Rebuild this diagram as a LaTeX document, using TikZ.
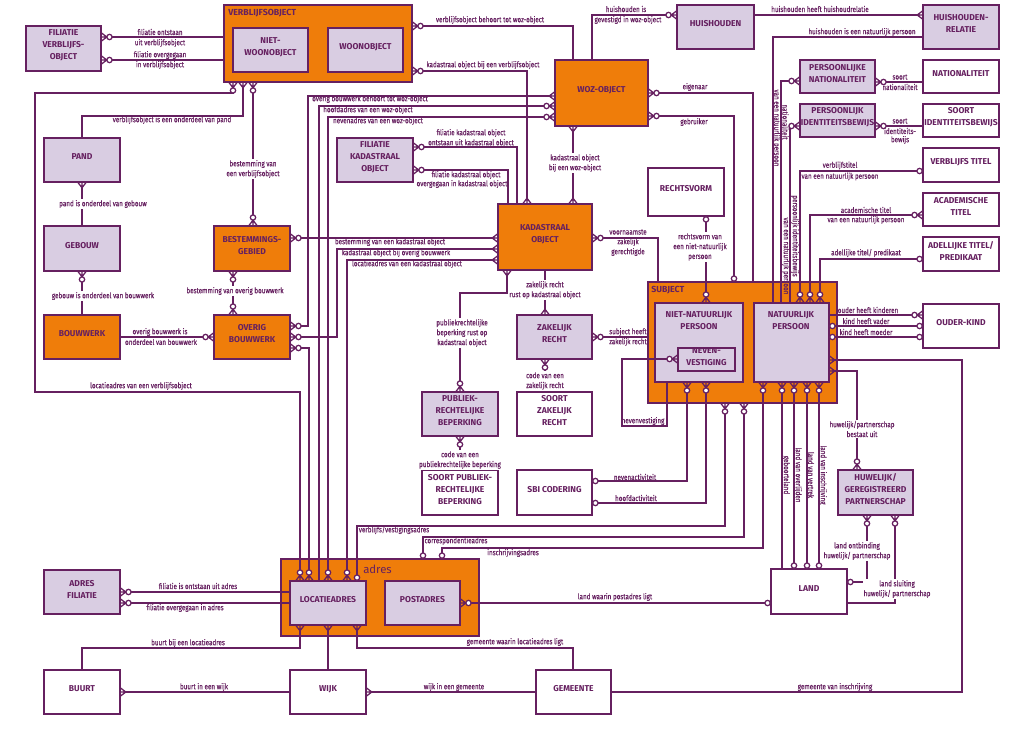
\documentclass[tikz,border=0pt]{standalone}
\usepackage{fontspec}
\setmainfont{Fira Sans}
\newfontfamily\lblfam[FakeStretch=0.8,FakeBold=0.3]{Fira Sans}
\usetikzlibrary{arrows.meta,fit}
\definecolor{pur}{RGB}{102,32,96}
\definecolor{org}{RGB}{239,125,10}
\definecolor{lav}{RGB}{217,205,226}
\pgfdeclarearrow{
  name = Crow,
  parameters = {\the\pgfarrowlength,\the\pgfarrowwidth},
  setup code = {
    \pgfarrowssettipend{0pt}
    \pgfarrowssetlineend{-\pgfarrowlength}
    \pgfarrowssetbackend{-\pgfarrowlength}
    \pgfarrowsupperhullpoint{0pt}{.5\pgfarrowwidth}
    \pgfarrowsupperhullpoint{-\pgfarrowlength}{0pt}
    \pgfarrowssavethe\pgfarrowlength
    \pgfarrowssavethe\pgfarrowwidth
  },
  drawing code = {
    \pgfpathmoveto{\pgfqpoint{0pt}{.5\pgfarrowwidth}}
    \pgfpathlineto{\pgfqpoint{-\pgfarrowlength}{0pt}}
    \pgfpathlineto{\pgfqpoint{0pt}{-.5\pgfarrowwidth}}
    \pgfpathmoveto{\pgfqpoint{-\pgfarrowlength}{0pt}}
    \pgfpathlineto{\pgfqpoint{0pt}{0pt}}
    \pgfusepathqstroke
  },
  defaults = {length = 3.8pt, width = 5.8pt}
}
\pgfdeclarearrow{
  name = Oc,
  parameters = {\the\pgfarrowlength},
  setup code = {
    \pgfarrowssettipend{0pt}
    \pgfarrowssetlineend{-\pgfarrowlength}
    \pgfarrowssetbackend{-\pgfarrowlength}
    \pgfarrowsupperhullpoint{0pt}{.5\pgfarrowlength}
    \pgfarrowsupperhullpoint{-\pgfarrowlength}{.5\pgfarrowlength}
    \pgfarrowssavethe\pgfarrowlength
  },
  drawing code = {
    \pgfpathcircle{\pgfqpoint{-.5\pgfarrowlength}{0pt}}{.5\pgfarrowlength}
    \pgfsetfillcolor{white}
    \pgfusepathqfillstroke
  },
  defaults = {length = 4pt}
}
\newcommand{\ttlf}{\fontsize{6.4}{9}\selectfont\bfseries}
\newcommand{\lblf}{\lblfam\fontsize{5.9}{7.4}\selectfont}
\newcommand{\bx}[7]{\node[#6, fit={(#2,#3) (#4,#5)}] (#1) {#7};}
\tikzset{
  conn/.style={draw=pur, line width=0.95pt},
  ebox/.style={draw=pur, line width=1.1pt, inner sep=0pt, align=center, text=pur, font=\ttlf},
  lavb/.style={ebox, fill=lav},
  orgb/.style={ebox, fill=org},
  whb/.style={ebox, fill=white},
  ttl/.style={text=pur, font=\ttlf, align=center, inner sep=0pt},
  ctl/.style={text=pur, font=\fontsize{6.6}{7}\selectfont\bfseries, inner sep=0pt, anchor=west},
  lb/.style={text=pur, font=\lblf, inner sep=0.3pt, align=center},
  lbw/.style={lb, fill=white, inner sep=0.8pt},
  vl/.style={lb, rotate=-90},
}
\begin{document}
\begin{tikzpicture}[x=0.75pt,y=-0.75pt]
\useasboundingbox (0,0) rectangle (1024,731);
% containers
\bx{vbo}{224}{5}{412}{82}{orgb}{}
\node[ctl] (vbot) at (228,13) {VERBLIJFSOBJECT};
\bx{subj}{648}{282}{837}{403}{orgb}{}
\node[ctl] (subjt) at (651,290) {SUBJECT};
\bx{adres}{281}{559}{479}{636}{orgb}{}
\node[text=pur, font=\fontsize{8.5}{9}\selectfont, inner sep=0pt, anchor=west] (adrest) at (363,569) {adres};
% boxes
\bx{fvb}{26}{26}{101}{71}{lavb}{FILIATIE\\VERBLIJFS-\\OBJECT}
\bx{nwo}{233}{28}{308}{72}{lavb}{NIET-\\WOONOBJECT}
\bx{wo}{328}{28}{403}{72}{lavb}{WOONOBJECT}
\bx{woz}{555}{60}{648}{126}{orgb}{WOZ-OBJECT}
\bx{hh}{677}{5}{754}{49}{lavb}{HUISHOUDEN}
\bx{hhr}{923}{5}{999}{49}{lavb}{HUISHOUDEN-\\RELATIE}
\bx{pnat}{800}{60}{875}{93}{lavb}{PERSOONLIJKE\\NATIONALITEIT}
\bx{nat}{923}{60}{999}{93}{whb}{NATIONALITEIT}
\bx{pid}{800}{104}{875}{137}{lavb}{PERSOONLIJK\\IDENTITEITSBEWIJS}
\bx{sid}{923}{104}{999}{137}{whb}{SOORT\\IDENTITEITSBEWIJS}
\bx{vt}{923}{148}{999}{182}{whb}{VERBLIJFS TITEL}
\bx{acad}{923}{193}{999}{226}{whb}{ACADEMISCHE\\TITEL}
\bx{adt}{923}{237}{999}{271}{whb}{ADELLIJKE TITEL/\\PREDIKAAT}
\bx{ok}{923}{304}{999}{348}{whb}{OUDER-KIND}
\bx{rv}{648}{168}{724}{216}{whb}{RECHTSVORM}
\bx{pand}{44}{138}{120}{182}{lavb}{PAND}
\bx{geb}{44}{226}{120}{271}{lavb}{GEBOUW}
\bx{bw}{44}{315}{120}{359}{orgb}{BOUWWERK}
\bx{bg}{214}{226}{290}{271}{orgb}{BESTEMMINGS-\\GEBIED}
\bx{ob}{214}{315}{290}{359}{orgb}{OVERIG\\BOUWWERK}
\bx{fko}{337}{138}{413}{182}{lavb}{FILIATIE\\KADASTRAAL\\OBJECT}
\bx{ko}{498}{204}{592}{270}{orgb}{KADASTRAAL\\OBJECT}
\bx{zr}{517}{315}{592}{359}{lavb}{ZAKELIJK\\RECHT}
\bx{szr}{517}{392}{592}{436}{whb}{SOORT\\ZAKELIJK\\RECHT}
\bx{prb}{422}{392}{498}{436}{lavb}{PUBLIEK-\\RECHTELIJKE\\BEPERKING}
\bx{sprb}{422}{470}{498}{515}{whb}{SOORT PUBLIEK-\\RECHTELIJKE\\BEPERKING}
\bx{sbi}{517}{470}{592}{515}{whb}{SBI CODERING}
\bx{nnp}{655}{303}{743}{382}{lavb}{}
\node[ttl] (nnpt) at (699,321) {NIET-NATUURLIJK\\PERSOON};
\bx{nv}{678}{348}{735}{371}{lavb}{NEVEN-\\VESTIGING}
\bx{np}{754}{303}{829}{382}{lavb}{}
\node[ttl] (npt) at (791,321) {NATUURLIJK\\PERSOON};
\bx{huw}{838}{470}{913}{515}{lavb}{HUWELIJK/\\GEREGISTREERD\\PARTNERSCHAP}
\bx{land}{771}{569}{847}{614}{whb}{LAND}
\bx{la}{290}{581}{366}{625}{lavb}{LOCATIEADRES}
\bx{pa}{385}{581}{460}{625}{lavb}{POSTADRES}
\bx{af}{44}{570}{120}{614}{lavb}{ADRES\\FILIATIE}
\bx{buurt}{44}{670}{120}{714}{whb}{BUURT}
\bx{wijk}{290}{670}{366}{714}{whb}{WIJK}
\bx{gem}{536}{670}{611}{714}{whb}{GEMEENTE}
% connectors
\draw[conn,{Crow[] Oc[]}-] (fvb.east |- 0,37) -- (vbo.west |- 0,37);
\draw[conn,{Crow[] Oc[]}-] (fvb.east |- 0,60) -- (vbo.west |- 0,60);
\draw[conn,{Crow[] Oc[]}-] (vbo.east |- 0,26) -| (woz.north -| 573,0);
\draw[conn,{Crow[] Oc[]}-{Crow[]}] (vbo.east |- 0,71) -| (ko.north -| 527,0);
\draw[conn,{Crow[]}-{Crow[]}] (woz.south -| 573,0) -- (ko.north -| 573,0);
\draw[conn,-{Oc[] Crow[]}] (woz.north -| 592,0) |- (hh.west |- 0,15);
\draw[conn,-{Crow[]}] (hh.east |- 0,15) -- (hhr.west |- 0,15);
\draw[conn] (hhr.west |- 0,37) -| (np.north -| 773,0);
\draw[conn,-{Oc[] Crow[]}] (np.north -| 781,0) |- (pnat.west |- 0,81);
\draw[conn,-{Oc[] Crow[]}] (np.north -| 790,0) |- (pid.west |- 0,126);
\draw[conn,{Crow[] Oc[]}-{Oc[]}] (np.north -| 800,0) |- (vt.west |- 0,171);
\draw[conn,{Crow[] Oc[]}-{Oc[] Crow[]}] (np.north -| 810,0) |- (acad.west |- 0,215);
\draw[conn,{Crow[] Oc[]}-{Oc[]}] (np.north -| 820,0) |- (adt.west |- 0,259);
\draw[conn,{Crow[] Oc[]}-] (pnat.east |- 0,82) -- (nat.west |- 0,82);
\draw[conn,{Crow[] Oc[]}-] (pid.east |- 0,126) -- (sid.west |- 0,126);
\draw[conn,-{Oc[] Crow[]}] (np.east |- 0,315) -- (ok.west |- 0,315);
\draw[conn,{Oc[]}-{Oc[]}] (np.east |- 0,326) -- (ok.west |- 0,326);
\draw[conn,{Oc[]}-{Oc[]}] (np.east |- 0,337) -- (ok.west |- 0,337);
\draw[conn,{Crow[]}-] (np.east |- 0,360) -| (962,692) -- (gem.east |- 0,692);
\draw[conn,{Crow[]}-{Oc[] Crow[]}] (np.east |- 0,371) -| (huw.north -| 857,0);
\draw[conn,{Crow[] Oc[]}-{Oc[]}] (huw.south -| 867,0) |- (land.east |- 0,582);
\draw[conn,{Crow[] Oc[]}-] (huw.south -| 895,0) |- (land.east |- 0,603);
\draw[conn,{Crow[] Oc[]}-{Oc[]}] (pa.east |- 0,603) -- (land.west |- 0,603);
\draw[conn,{Crow[] Oc[]}-] (af.east |- 0,592) -- (la.west |- 0,592);
\draw[conn,{Crow[] Oc[]}-] (af.east |- 0,603) -- (la.west |- 0,603);
\draw[conn,{Crow[]}-] (la.south -| 300,0) |- (82,648) -- (buurt.north -| 82,0);
\draw[conn,{Crow[]}-] (la.south -| 328,0) -- (wijk.north -| 328,0);
\draw[conn,{Crow[]}-] (la.south -| 357,0) |- (573,648) -- (gem.north -| 573,0);
\draw[conn,{Crow[]}-] (buurt.east |- 0,692) -- (wijk.west |- 0,692);
\draw[conn,{Crow[]}-] (wijk.east |- 0,692) -- (gem.west |- 0,692);
\draw[conn,{Crow[] Oc[]}-{Oc[] Crow[]}] (vbo.south -| 233,0) |- (35,93) |- (300,392) -- (la.north -| 300,0);
\draw[conn,{Crow[]}-] (vbo.south -| 243,0) |- (82,116) -- (pand.north -| 82,0);
\draw[conn,{Crow[] Oc[]}-{Oc[] Crow[]}] (vbo.south -| 253,0) -- (bg.north -| 253,0);
\draw[conn,{Crow[]}-] (pand.south -| 82,0) -- (geb.north -| 82,0);
\draw[conn,{Crow[] Oc[]}-] (geb.south -| 82,0) -- (bw.north -| 82,0);
\draw[conn,-{Oc[] Crow[]}] (bw.east |- 0,337) -- (ob.west |- 0,337);
\draw[conn,{Crow[] Oc[]}-{Oc[] Crow[]}] (bg.south -| 233,0) -- (ob.north -| 233,0);
\draw[conn,{Crow[] Oc[]}-{Crow[]}] (bg.east |- 0,238) -- (ko.west |- 0,238);
\draw[conn,{Crow[] Oc[]}-{Crow[]}] (ob.east |- 0,337) -| (337,249) -- (ko.west |- 0,249);
\draw[conn,{Crow[] Oc[]}-{Crow[]}] (la.north -| 347,0) |- (ko.west |- 0,260);
\draw[conn,{Crow[] Oc[]}-{Crow[]}] (ob.east |- 0,326) -| (308,96) -- (woz.west |- 0,96);
\draw[conn,-{Oc[] Crow[]}] (la.north -| 319,0) |- (woz.west |- 0,106);
\draw[conn,{Crow[] Oc[]}-{Oc[] Crow[]}] (la.north -| 328,0) |- (woz.west |- 0,117);
\draw[conn,{Crow[] Oc[]}-{Oc[] Crow[]}] (ob.east |- 0,348) -| (la.north -| 309,0);
\draw[conn,{Crow[] Oc[]}-] (fko.east |- 0,147) -| (ko.north -| 517,0);
\draw[conn,{Crow[] Oc[]}-] (fko.east |- 0,170) -| (ko.north -| 508,0);
\draw[conn,{Crow[] Oc[]}-] (ko.east |- 0,238) -| (subj.north -| 658,0);
\draw[conn,{Crow[]}-{Oc[] Crow[]}] (ko.south -| 507,0) |- (460,293) -- (prb.north -| 460,0);
\draw[conn,-{Crow[]}] (ko.south -| 545,0) -- (zr.north -| 545,0);
\draw[conn,{Crow[] Oc[]}-] (zr.east |- 0,337) -- (subj.west |- 0,337);
\draw[conn,{Crow[] Oc[]}-] (zr.south -| 545,0) -- (szr.north -| 545,0);
\draw[conn,{Crow[] Oc[]}-] (prb.south -| 460,0) -- (sprb.north -| 460,0);
\draw[conn,{Oc[]}-{Oc[] Crow[]}] (rv.south -| 706,0) -- (nnp.north -| 706,0);
\draw[conn,{Crow[] Oc[]}-] (woz.east |- 0,93) -| (subj.north -| 753,0);
\draw[conn,{Crow[] Oc[]}-{Oc[]}] (woz.east |- 0,116) -| (subj.north -| 734,0);
\draw[conn,{Crow[] Oc[]}-{Oc[]}] (nnp.south -| 687,0) |- (sbi.east |- 0,481);
\draw[conn,{Crow[] Oc[]}-{Oc[]}] (nnp.south -| 706,0) |- (sbi.east |- 0,503);
\draw[conn,-{Oc[] Crow[]}] (nnp.south -| 667,0) |- (622,426) |- (nv.west |- 0,359);
\draw[conn,{Crow[] Oc[]}-{Oc[]}] (subj.south -| 725,0) |- (357,526) -- (la.north -| 357,0);
\draw[conn,{Crow[] Oc[]}-{Oc[]}] (subj.south -| 744,0) |- (423,537) -- (adres.north -| 423,0);
\draw[conn,{Crow[] Oc[]}-{Oc[]}] (np.south -| 763,0) |- (442,548) -- (adres.north -| 442,0);
\draw[conn,{Crow[] Oc[]}-] (np.south -| 782,0) -- (land.north -| 782,0);
\draw[conn,{Crow[] Oc[]}-{Oc[]}] (np.south -| 794,0) -- (land.north -| 794,0);
\draw[conn,{Crow[] Oc[]}-{Oc[]}] (np.south -| 807,0) -- (land.north -| 807,0);
\draw[conn,{Crow[] Oc[]}-{Oc[]}] (np.south -| 819,0) -- (land.north -| 819,0);
% labels
\node[lb] (t1) at (160,32) {filiatie ontstaan};
\node[lb] (t2) at (160,43) {uit verblijfsobject};
\node[lb] (t3) at (160,55) {filiatie overgegaan};
\node[lb] (t4) at (160,65) {in verblijfsobject};
\node[lb] (t5) at (490,20) {verblijfsobject behoort tot woz-object};
\node[lb] (t6) at (483,65) {kadastraal object bij een verblijfsobject};
\node[lbw] (t7) at (575,163) {kadastraal object\\bij een woz-object};
\node[lb] (t8) at (626,9) {huishouden is};
\node[lb] (t9) at (628,20) {gevestigd in woz-object};
\node[lb] (t10) at (820,9) {huishouden heeft huishoudrelatie};
\node[lb] (t11) at (862,32) {huishouden is een natuurlijk persoon};
\node[lb] (t12) at (900,77) {soort};
\node[lb] (t13) at (900,87) {nationaliteit};
\node[lb] (t14) at (900,121) {soort};
\node[lb] (t15) at (900,131) {identiteits-};
\node[lb] (t16) at (900,140) {bewijs};
\node[lb] (t17) at (840,165.5) {verblijfstitel};
\node[lb] (t18) at (840,176.5) {van een natuurlijk persoon};
\node[lb] (t19) at (866,210) {academische titel};
\node[lb] (t20) at (866,220) {van een natuurlijk persoon};
\node[lb] (t21) at (866,253) {adellijke titel/ predikaat};
\node[lb] (t22) at (868,310) {ouder heeft kinderen};
\node[lb] (t23) at (866,321) {kind heeft vader};
\node[lb] (t24) at (866,332) {kind heeft moeder};
\node[lb] (t25) at (835,687) {gemeente van inschrijving};
\node[lbw] (t26) at (862,429) {huwelijk/partnerschap\\bestaat uit};
\node[lbw] (t27) at (857,551) {land ontbinding\\huwelijk/ partnerschap};
\node[lbw] (t28) at (897,589) {land sluiting\\huwelijk/ partnerschap};
\node[lb] (t29) at (615,597) {land waarin postadres ligt};
\node[lb] (t30) at (198,586) {filiatie is ontstaan uit adres};
\node[lb] (t31) at (185,608) {filiatie overgegaan in adres};
\node[lb] (t32) at (188,643) {buurt bij een locatieadres};
\node[lb] (t33) at (515,642) {gemeente waarin locatieadres ligt};
\node[lb] (t34) at (204,687) {buurt in een wijk};
\node[lb] (t35) at (454,687) {wijk in een gemeente};
\node[lb] (t36) at (141,386) {locatieadres van een verblijfsobject};
\node[lb] (t37) at (172,120) {verblijfsobject is een onderdeel van pand};
\node[lbw] (t38) at (253,169) {bestemming van\\een verblijfsobject};
\node[lbw] (t39) at (103,204) {pand is onderdeel van gebouw};
\node[lbw] (t40) at (103,296) {gebouw is onderdeel van bouwwerk};
\node[lb] (t41) at (160,332) {overig bouwwerk is};
\node[lb] (t42) at (161,342) {onderdeel van bouwwerk};
\node[lbw] (t43) at (235,291) {bestemming van overig bouwwerk};
\node[lb] (t44) at (390,242) {bestemming van een kadastraal object};
\node[lb] (t45) at (396,253) {kadastraal object bij overig bouwwerk};
\node[lb] (t46) at (407,264) {locatieadres van een kadastraal object};
\node[lb] (t47) at (370,99) {overig bouwwerk behoort tot woz-object};
\node[lb] (t48) at (368,110) {hoofdadres van een woz-object};
\node[lb] (t49) at (378,121) {nevenadres van een woz-object};
\node[lb] (t50) at (471,133) {filiatie kadastraal object};
\node[lb] (t51) at (471,143) {ontstaan uit kadastraal object};
\node[lb] (t52) at (466,175) {filiatie kadastraal object};
\node[lb] (t53) at (462,184) {overgegaan in kadastraal object};
\node[lb] (t54) at (628,232) {voornaamste};
\node[lb] (t55) at (628,242) {zakelijk};
\node[lb] (t56) at (628,252) {gerechtigde};
\node[lbw] (t57) at (462,333) {publiekrechtelijke\\beperking rust op\\kadastraal object};
\node[lbw] (t58) at (545,290) {zakelijk recht\\rust op kadastraal object};
\node[lb] (t59) at (628,332) {subject heeft};
\node[lb] (t60) at (628,342) {zakelijk recht};
\node[lbw] (t61) at (545,381) {code van een\\zakelijk recht};
\node[lbw] (t62) at (460,460) {code van een\\publiekrechtelijke beperking};
\node[lbw] (t63) at (700,247) {rechtsvorm van\\een niet-natuurlijk\\persoon};
\node[lb] (t64) at (695,87) {eigenaar};
\node[lb] (t65) at (694,122) {gebruiker};
\node[lb] (t66) at (635,477) {nevenactiviteit};
\node[lb] (t67) at (636,498) {hoofdactiviteit};
\node[lb] (t68) at (643,421) {nevenvestiging};
\node[lb] (t69) at (394,530) {verblijfs/vestigingsadres};
\node[lb] (t70) at (456,541) {correspondentieadres};
\node[lb] (t71) at (513,553) {inschrijvingsadres};
\node[vl] (t72) at (776.5,128) {van een natuurlijk persoon};
\node[vl] (t73) at (785.5,122) {nationaliteit};
\node[vl] (t74) at (786,256) {van een natuurlijk persoon};
\node[vl] (t75) at (795,236) {persoonlijk identiteitsbewijs};
\node[vl] (t76) at (786,475) {geboorteland};
\node[vl] (t77) at (798,475) {land van overlijden};
\node[vl] (t78) at (811,475) {land van vertrek};
\node[vl] (t79) at (823,475) {land van inschrijving};
\end{tikzpicture}
\end{document}
